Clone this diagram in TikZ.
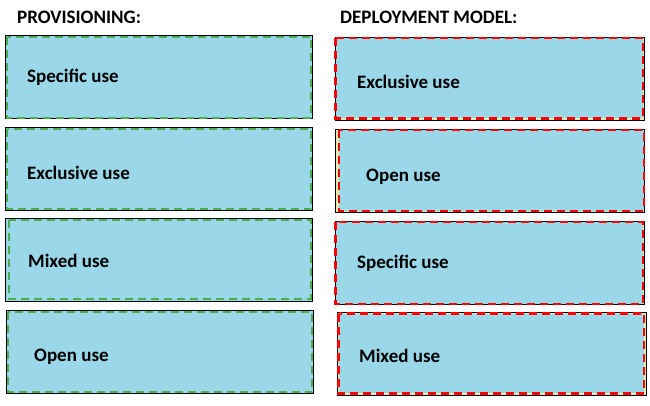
\documentclass[tikz,border=0pt]{standalone}
\usepackage{fontspec}
\setmainfont{Carlito}
\definecolor{boxblue}{RGB}{154,215,232}
\definecolor{dashgreen}{RGB}{76,173,80}
\definecolor{dashred}{RGB}{255,0,0}
\definecolor{cream}{RGB}{236,230,176}
\tikzset{
  leftbox/.style={draw=black, line width=0.8pt, fill=boxblue, minimum width=307pt, minimum height=83pt, anchor=north west, inner sep=0pt},
  rightbox/.style={draw=black, line width=0.8pt, fill=cream, minimum width=309pt, minimum height=83pt, anchor=north west, inner sep=0pt},
  greendash/.style={draw=dashgreen, line width=2pt, dash pattern=on 8pt off 5pt},
  reddash/.style={draw=dashred, fill=boxblue, line width=2.6pt, dash pattern=on 8pt off 5pt},
  lbl/.style={anchor=west, inner sep=0pt, font=\fontsize{19}{22}\selectfont\bfseries},
  heading/.style={anchor=west, inner sep=0pt, font=\fontsize{19}{22}\selectfont\bfseries}
}
\begin{document}
\begin{tikzpicture}[x=1pt,y=-1pt]
\useasboundingbox (0,0) rectangle (650,405);
% headings
\node[heading] (h1) at (17,17) {PROVISIONING:};
\node[heading] (h2) at (340,17) {DEPLOYMENT MODEL:};
% left column
\node[leftbox] (l1) at (5,35) {};
\draw[greendash] ([shift={(1.5,2)}]l1.north west) rectangle ([shift={(-1.5,-1)}]l1.south east);
\node[lbl] (t1) at (27,77) {Specific use};
\node[leftbox] (l2) at (5,127) {};
\draw[greendash] ([shift={(2,2)}]l2.north west) rectangle ([shift={(-1.5,-1.5)}]l2.south east);
\node[lbl] (t2) at (27,173) {Exclusive use};
\node[leftbox] (l3) at (5,218) {};
\draw[greendash] ([shift={(4,2)}]l3.north west) rectangle ([shift={(-2,-3)}]l3.south east);
\node[lbl] (t3) at (28,261) {Mixed use};
\node[leftbox] (l4) at (6,310) {};
\draw[greendash] ([shift={(2,2)}]l4.north west) rectangle ([shift={(-1.5,-1.5)}]l4.south east);
\node[lbl] (t4) at (34,357) {Open use};
% right column
\node[rightbox] (r1) at (335,37) {};
\filldraw[reddash] ([shift={(0.5,1)}]r1.north west) rectangle ([shift={(-2,-2.5)}]r1.south east);
\node[lbl] (s1) at (357,82) {Exclusive use};
\node[rightbox] (r2) at (335,129) {};
\filldraw[reddash] ([shift={(4,1)}]r2.north west) rectangle ([shift={(-1,-2)}]r2.south east);
\node[lbl] (s2) at (366,177) {Open use};
\node[rightbox] (r3) at (335,221) {};
\filldraw[reddash] ([shift={(0.5,1)}]r3.north west) rectangle ([shift={(-2,-1)}]r3.south east);
\node[lbl] (s3) at (357,263) {Specific use};
\node[rightbox] (r4) at (337,312) {};
\filldraw[reddash] ([shift={(1.5,1.5)}]r4.north west) rectangle ([shift={(-3,-2.5)}]r4.south east);
\node[lbl] (s4) at (359,356) {Mixed use};
\end{tikzpicture}
\end{document}
